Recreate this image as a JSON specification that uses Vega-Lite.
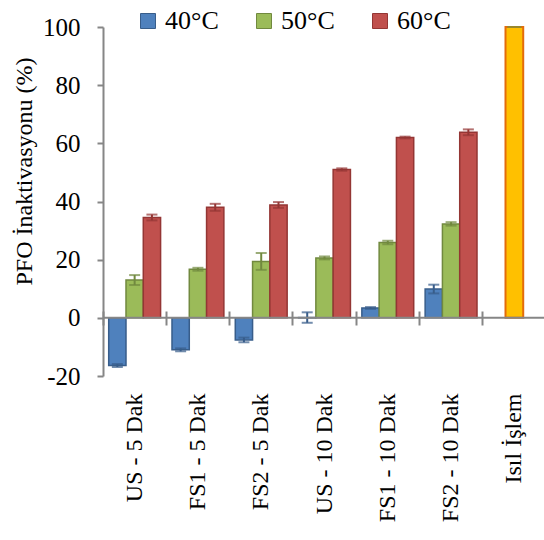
{
  "$schema": "https://vega.github.io/schema/vega-lite/v6.json",
  "width": 443,
  "height": 349,
  "autosize": {"type": "none"},
  "padding": {"left": 103, "top": 27, "right": 0, "bottom": 164},
  "datasets": {
    "grp": [
      {"cat": "US - 5 Dak", "series": "40°C", "value": -16.4, "lo": -16.9, "hi": -15.9},
      {"cat": "US - 5 Dak", "series": "50°C", "value": 13.0, "lo": 11.3, "hi": 14.7},
      {"cat": "US - 5 Dak", "series": "60°C", "value": 34.5, "lo": 33.5, "hi": 35.5},
      {"cat": "FS1 - 5 Dak", "series": "40°C", "value": -11.0, "lo": -11.5, "hi": -10.5},
      {"cat": "FS1 - 5 Dak", "series": "50°C", "value": 16.7, "lo": 16.2, "hi": 17.2},
      {"cat": "FS1 - 5 Dak", "series": "60°C", "value": 38.0, "lo": 36.8, "hi": 39.2},
      {"cat": "FS2 - 5 Dak", "series": "40°C", "value": -7.6, "lo": -8.4, "hi": -6.8},
      {"cat": "FS2 - 5 Dak", "series": "50°C", "value": 19.4, "lo": 16.5, "hi": 22.3},
      {"cat": "FS2 - 5 Dak", "series": "60°C", "value": 38.8, "lo": 37.8, "hi": 39.8},
      {"cat": "US - 10 Dak", "series": "40°C", "value": 0.1, "lo": -1.7, "hi": 1.9},
      {"cat": "US - 10 Dak", "series": "50°C", "value": 20.6, "lo": 20.1, "hi": 21.1},
      {"cat": "US - 10 Dak", "series": "60°C", "value": 51.0, "lo": 50.6, "hi": 51.4},
      {"cat": "FS1 - 10 Dak", "series": "40°C", "value": 3.4, "lo": 3.1, "hi": 3.7},
      {"cat": "FS1 - 10 Dak", "series": "50°C", "value": 25.9, "lo": 25.3, "hi": 26.5},
      {"cat": "FS1 - 10 Dak", "series": "60°C", "value": 62.0, "lo": 61.7, "hi": 62.3},
      {"cat": "FS2 - 10 Dak", "series": "40°C", "value": 9.9, "lo": 8.4, "hi": 11.4},
      {"cat": "FS2 - 10 Dak", "series": "50°C", "value": 32.3, "lo": 31.7, "hi": 32.9},
      {"cat": "FS2 - 10 Dak", "series": "60°C", "value": 63.8, "lo": 62.8, "hi": 64.8}
    ],
    "heat": [
      {"cat": "Isıl İşlem", "value": 100}
    ]
  },
  "config": {
    "view": {"stroke": null},
    "font": "Liberation Serif",
    "axis": {"labelFont": "Liberation Serif", "titleFont": "Liberation Serif"},
    "legend": {"labelFont": "Liberation Serif"}
  },
  "resolve": {"axis": {"x": "independent"}},
  "layer": [
    {
      "data": {"name": "grp"},
      "mark": {"type": "bar", "strokeWidth": 1.5},
      "encoding": {
        "x": {
          "field": "cat", "type": "nominal", "sort": null,
          "scale": {"domain": ["US - 5 Dak", "FS1 - 5 Dak", "FS2 - 5 Dak", "US - 10 Dak", "FS1 - 10 Dak", "FS2 - 10 Dak", "Isıl İşlem"], "paddingInner": 0, "paddingOuter": 0},
          "axis": {"orient": "bottom", "title": null, "domain": false, "ticks": false, "labelAngle": -90, "labelAlign": "right", "labelBaseline": "middle", "labelPadding": 17, "labelFont": "Liberation Serif", "labelFontSize": 24, "labelColor": "#000000"}
        },
        "xOffset": {"field": "series", "type": "nominal", "scale": {"paddingOuter": 0.33, "paddingInner": 0}},
        "y": {"field": "value", "type": "quantitative", "title": "PFO İnaktivasyonu (%)", "scale": {"domain": [-20, 100], "nice": false, "zero": false},
          "axis": {"values": [-20, 0, 20, 40, 60, 80, 100], "labelExpr": "datum.value < 0 ? '-' + abs(datum.value) : datum.label", "grid": false, "domainColor": "#868686", "domainWidth": 2, "tickColor": "#868686", "tickWidth": 2, "tickSize": 6, "labelFont": "Liberation Serif", "labelFontSize": 25, "labelColor": "#000000", "labelPadding": 17, "titleFont": "Liberation Serif", "titleFontSize": 24, "titleFontWeight": "normal", "titleColor": "#000000", "titleAngle": -90, "titleX": -79, "titleY": 144, "titleAlign": "center", "titleBaseline": "middle"}},
        "color": {
          "field": "series", "type": "nominal",
          "scale": {"domain": ["40°C", "50°C", "60°C"], "range": ["#4F81BD", "#9BBB59", "#C0504D"]},
          "legend": {"orient": "none", "legendX": 32, "legendY": -19, "direction": "horizontal", "columns": 3, "title": null, "symbolType": "square", "symbolSize": 225, "symbolStrokeWidth": 1, "labelFont": "Liberation Serif", "labelFontSize": 26, "labelColor": "#000000", "labelOffset": 4, "columnPadding": 32, "padding": 0}
        },
        "stroke": {"field": "series", "type": "nominal", "scale": {"domain": ["40°C", "50°C", "60°C"], "range": ["#385D8A", "#71893F", "#943634"]}, "legend": null}
      }
    },
    {
      "data": {"name": "grp"},
      "mark": {"type": "rule", "strokeWidth": 2},
      "encoding": {
        "x": {"field": "cat", "type": "nominal", "sort": null, "axis": null},
        "xOffset": {"field": "series", "type": "nominal"},
        "y": {"field": "lo", "type": "quantitative", "title": "PFO İnaktivasyonu (%)"},
        "y2": {"field": "hi"},
        "stroke": {"field": "series", "type": "nominal", "legend": null}
      }
    },
    {
      "data": {"name": "grp"},
      "mark": {"type": "tick", "size": 11, "thickness": 2},
      "encoding": {
        "x": {"field": "cat", "type": "nominal", "sort": null, "axis": null},
        "xOffset": {"field": "series", "type": "nominal"},
        "y": {"field": "lo", "type": "quantitative", "title": "PFO İnaktivasyonu (%)"},
        "fill": {"field": "series", "type": "nominal", "scale": {"domain": ["40°C", "50°C", "60°C"], "range": ["#385D8A", "#71893F", "#943634"]}, "legend": null}
      }
    },
    {
      "data": {"name": "grp"},
      "mark": {"type": "tick", "size": 11, "thickness": 2},
      "encoding": {
        "x": {"field": "cat", "type": "nominal", "sort": null, "axis": null},
        "xOffset": {"field": "series", "type": "nominal"},
        "y": {"field": "hi", "type": "quantitative", "title": "PFO İnaktivasyonu (%)"},
        "fill": {"field": "series", "type": "nominal", "legend": null}
      }
    },
    {
      "data": {"name": "heat"},
      "mark": {"type": "bar", "width": {"band": 0.28}, "fill": "#FFC000", "stroke": "#E46C0A", "strokeWidth": 2},
      "encoding": {
        "x": {
          "field": "cat", "type": "nominal", "sort": null,
          "axis": {"orient": "top", "offset": -298, "title": null, "labels": false, "domain": false, "ticks": true, "bandPosition": 0, "tickSize": 14, "tickWidth": 2, "tickColor": "#868686"}
        },
        "y": {"field": "value", "type": "quantitative", "title": "PFO İnaktivasyonu (%)"}
      }
    },
    {
      "data": {"name": "heat"},
      "mark": {"type": "tick", "size": 14, "thickness": 2, "color": "#77933C"},
      "encoding": {
        "x": {"field": "cat", "type": "nominal", "sort": null, "axis": null},
        "y": {"field": "value", "type": "quantitative", "title": "PFO İnaktivasyonu (%)"}
      }
    },
    {
      "data": {"values": [{}]},
      "mark": {"type": "rule", "stroke": "#868686", "strokeWidth": 2},
      "encoding": {"y": {"datum": 0, "type": "quantitative", "title": "PFO İnaktivasyonu (%)"}}
    }
  ]
}
